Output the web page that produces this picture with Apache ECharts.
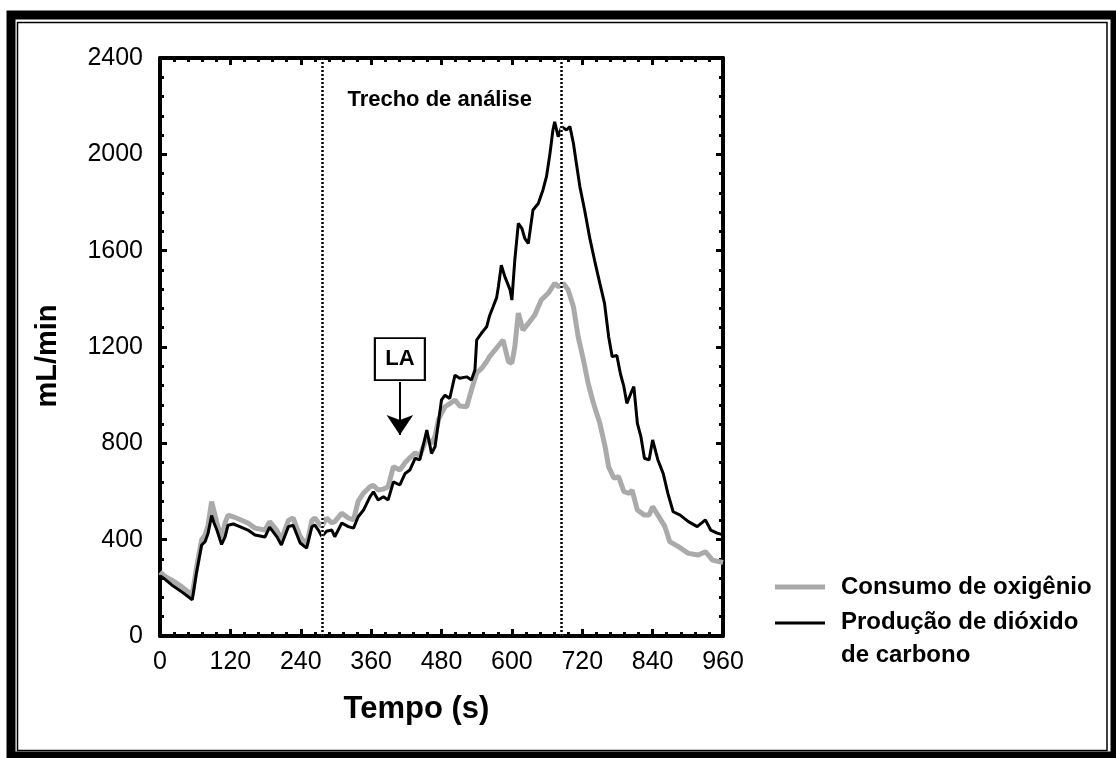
<!DOCTYPE html>
<html>
<head>
<meta charset="utf-8">
<title>Consumo de oxigênio e produção de dióxido de carbono</title>
<script src="https://cdn.jsdelivr.net/npm/echarts@6/dist/echarts.min.js"></script>
<style>
  html, body { margin: 0; padding: 0; background: #fff; }
  #chart { width: 1116px; height: 758px; }
</style>
</head>
<body>
<div id="chart"></div>
<script>
// tempo (s) e valores (mL/min)
const tempoO2 = [0, 10, 20, 37, 50, 55, 62, 71, 77, 82, 88, 92, 97, 105, 111, 116, 125, 135, 150, 162,
  179, 187, 199, 207, 219, 227, 239, 250, 259, 264, 270, 276, 284, 293, 298, 310, 321, 330, 338, 347,
  358, 364, 372, 381, 389, 398, 409, 418, 426, 435, 443, 455, 463, 469, 475, 480, 486, 494, 503, 511,
  523, 531, 540, 548, 557, 562, 574, 585, 594, 600, 605, 611, 619, 628, 639, 650, 662, 673, 680, 688,
  696, 705, 713, 722, 730, 739, 750, 759, 765, 774, 782, 791, 800, 805, 814, 826, 834, 840, 849, 861,
  869, 884, 901, 918, 930, 942, 960]
const consumoO2 = [265, 245, 232, 205, 180, 170, 280, 400, 420, 460, 558, 520, 470, 407, 470, 502, 495, 485, 469, 448,
  440, 475, 440, 400, 480, 490, 413, 378, 480, 490, 470, 455, 490, 470, 475, 510, 490, 482, 560, 593,
  620, 625, 606, 610, 620, 703, 689, 720, 740, 760, 750, 820, 800, 830, 900, 925, 952, 965, 980, 955,
  952, 1021, 1092, 1110, 1140, 1160, 1196, 1229, 1140, 1133, 1200, 1341, 1270, 1298, 1333, 1395, 1423, 1464, 1450, 1464,
  1437, 1367, 1243, 1146, 1050, 967, 883, 786, 703, 655, 662, 599, 592, 606, 523, 502, 502, 537, 502, 454,
  392, 371, 343, 336, 350, 315, 305]

const tempoCO2 = [0, 6, 20, 37, 50, 55, 62, 71, 77, 82, 88, 92, 97, 105, 111, 116, 125, 135, 150, 162,
  179, 187, 199, 207, 219, 227, 239, 250, 259, 264, 270, 276, 284, 293, 298, 310, 321, 330, 338, 347,
  358, 364, 372, 381, 389, 398, 409, 418, 426, 435, 443, 455, 463, 469, 480, 486, 494, 503, 511, 523,
  531, 537, 540, 548, 557, 562, 568, 574, 577, 582, 588, 597, 600, 605, 611, 617, 622, 628, 636, 645,
  653, 659, 665, 670, 673, 679, 685, 693, 699, 705, 710, 716, 724, 733, 741, 750, 758, 765, 771, 779,
  785, 791, 796, 803, 808, 814, 820, 826, 834, 840, 849, 858, 866, 875, 887, 901, 916, 930, 939, 950,
  960]
const producaoCO2 = [250, 240, 212, 184, 160, 150, 260, 378, 392, 427, 500, 470, 440, 380, 412, 460, 465, 455, 440, 419,
  411, 452, 413, 378, 454, 460, 386, 365, 454, 460, 440, 413, 435, 440, 412, 469, 454, 448, 495, 523,
  578, 599, 565, 578, 565, 640, 627, 675, 689, 738, 731, 855, 758, 786, 980, 1000, 986, 1083, 1070, 1076,
  1063, 1104, 1229, 1257, 1284, 1330, 1367, 1405, 1450, 1540, 1492, 1437, 1395, 1561, 1713, 1693, 1651, 1630, 1769, 1796,
  1852, 1907, 2004, 2101, 2135, 2073, 2115, 2101, 2115, 2045, 1962, 1865, 1769, 1650, 1560, 1464, 1381, 1243, 1160, 1165,
  1090, 1035, 966, 1008, 1035, 883, 828, 738, 731, 814, 731, 675, 592, 516, 502, 475, 454, 482, 440, 427,
  420]

// eixos
const xMin = 0, xMax = 960, xStep = 120
const yMin = 0, yMax = 2400, yStep = 400

// trecho de análise (s) e anotações, em unidades dos dados
const trecho = [276, 684]
const trechoLabel = [477, 2225]
const laBox = [409, 1150]
const laArrow = [[409, 1055], [409, 835]]

const FONT = '"Liberation Sans", Arial, sans-serif'
const CINZA = '#aaaaaa'

function pares(xs, ys) {
  return xs.map((x, i) => [x, ys[i]])
}

function eixo(extra) {
  return Object.assign({
    type: 'value',
    axisLine: { show: true, onZero: false, lineStyle: { color: '#000', width: 4 } },
    axisTick: { show: true, inside: true, length: 7, lineStyle: { color: '#000', width: 3 } },
    minorTick: { show: true, splitNumber: 5, length: 4, lineStyle: { color: '#000', width: 3 } },
    splitLine: { show: false },
    axisLabel: { show: false }
  }, extra)
}

const rotulo = (margin) => ({
  color: '#000', fontSize: 25, fontFamily: FONT, margin: margin,
  formatter: (v) => String(v)
})

const chart = echarts.init(document.getElementById('chart'), null, { renderer: 'canvas' })

chart.setOption({
  backgroundColor: '#fff',
  animation: false,
  textStyle: { fontFamily: FONT },
  grid: { left: 160, top: 58, width: 563, height: 578, containLabel: false },
  xAxis: [
    eixo({
      min: xMin, max: xMax, interval: xStep, position: 'bottom',
      axisLabel: rotulo(14),
      name: 'Tempo (s)', nameLocation: 'middle', nameGap: 58,
      nameTextStyle: { color: '#000', fontSize: 31, fontWeight: 'bold', fontFamily: FONT, padding: [0, 50, 0, 0] }
    }),
    eixo({ min: xMin, max: xMax, interval: xStep, position: 'top' })
  ],
  yAxis: [
    eixo({
      min: yMin, max: yMax, interval: yStep, position: 'left',
      axisLabel: rotulo(17),
      name: 'mL/min', nameLocation: 'middle', nameGap: 98,
      nameTextStyle: { color: '#000', fontSize: 29, fontWeight: 'bold', fontFamily: FONT, padding: [0, 18, 0, 0] }
    }),
    eixo({ min: yMin, max: yMax, interval: yStep, position: 'right' })
  ],
  series: [
    {
      name: 'Consumo de oxigênio',
      type: 'line',
      data: pares(tempoO2, consumoO2),
      symbol: 'none',
      z: 2,
      lineStyle: { color: CINZA, width: 5 },
      markLine: {
        silent: true,
        symbol: ['none', 'arrow'],
        symbolSize: 20,
        label: { show: false },
        lineStyle: { color: '#000', width: 2, type: 'solid' },
        data: [[{ coord: laArrow[0] }, { coord: laArrow[1] }]]
      },
      markPoint: {
        silent: true,
        data: [{
          coord: laBox,
          symbol: 'rect',
          symbolSize: [50, 42],
          itemStyle: { color: '#fff', borderColor: '#000', borderWidth: 2 },
          label: { show: true, position: 'inside', formatter: 'LA', color: '#000', fontSize: 22, fontWeight: 'bold', fontFamily: FONT }
        }]
      }
    },
    {
      name: 'Produção de dióxido de carbono',
      type: 'line',
      data: pares(tempoCO2, producaoCO2),
      symbol: 'none',
      z: 3,
      lineStyle: { color: '#000', width: 3 },
      markLine: {
        silent: true,
        symbol: ['none', 'none'],
        label: { show: false },
        data: [
          { xAxis: trecho[0], lineStyle: { color: '#fff', width: 2.5, type: 'solid' } },
          { xAxis: trecho[1], lineStyle: { color: '#fff', width: 2.5, type: 'solid' } },
          { xAxis: trecho[0], lineStyle: { color: '#000', width: 2.5, type: [2, 2] } },
          { xAxis: trecho[1], lineStyle: { color: '#000', width: 2.5, type: [2, 2] } }
        ]
      },
      markPoint: {
        silent: true,
        data: [{
          coord: trechoLabel,
          symbol: 'rect',
          symbolSize: 1,
          itemStyle: { color: 'rgba(0,0,0,0)' },
          label: { show: true, position: 'inside', formatter: 'Trecho de análise', color: '#000', fontSize: 22, fontWeight: 'bold', fontFamily: FONT }
        }]
      }
    }
  ],
  graphic: [
    // moldura
    { type: 'rect', silent: true, shape: { x: 11, y: 15, width: 1104, height: 741 }, style: { fill: null, stroke: '#000', lineWidth: 9 } },
    { type: 'rect', silent: true, shape: { x: 17.5, y: 22.5, width: 1089.5, height: 728 }, style: { fill: null, stroke: '#000', lineWidth: 1.5 } },
    // legenda
    { type: 'line', silent: true, shape: { x1: 775, y1: 587, x2: 825, y2: 587 }, style: { stroke: CINZA, lineWidth: 5 } },
    { type: 'text', silent: true, x: 841, y: 587, style: { text: 'Consumo de oxigênio', fill: '#000', font: 'bold 24px ' + FONT, verticalAlign: 'middle' } },
    { type: 'line', silent: true, shape: { x1: 775, y1: 623, x2: 825, y2: 623 }, style: { stroke: '#000', lineWidth: 3 } },
    { type: 'text', silent: true, x: 841, y: 606, style: { text: 'Produção de dióxido\nde carbono', fill: '#000', font: 'bold 24px ' + FONT, lineHeight: 33, verticalAlign: 'top' } }
  ]
})
</script>
</body>
</html>
